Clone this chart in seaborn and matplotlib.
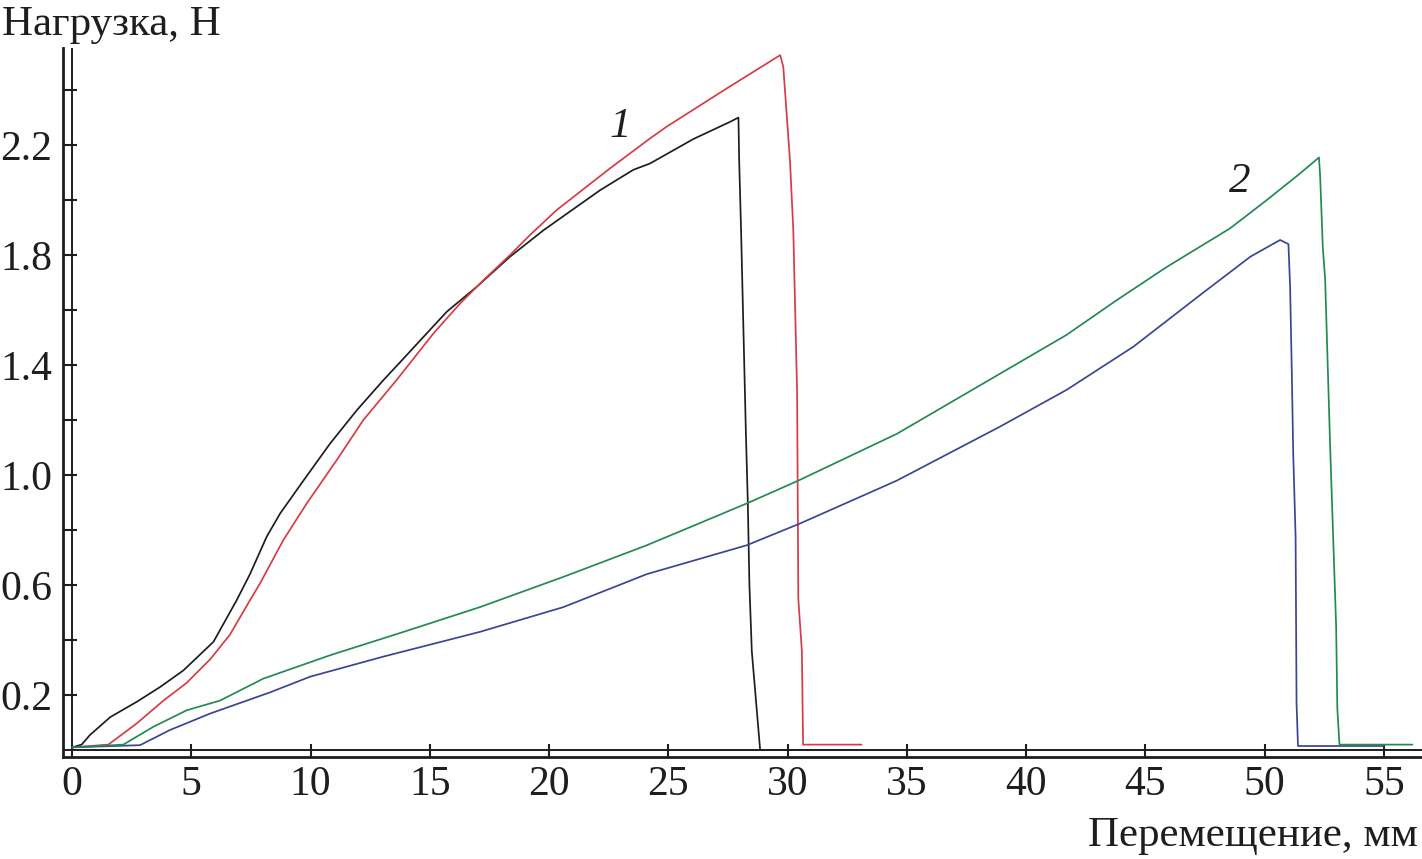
import numpy as np
import pandas as pd
import matplotlib
matplotlib.use('Agg')
import matplotlib.pyplot as plt
import seaborn as sns

# ---------------- data ----------------
x_black = [0.0, 0.4, 0.75, 1.6, 2.7, 3.7, 4.67, 5.93, 6.9, 7.46, 8.16, 8.72, 9.7, 10.82,
           11.94, 13.05, 13.75, 14.6, 15.71, 16.97, 18.36, 19.76, 22.14, 23.53, 24.23,
           26.05, 27.6, 27.94, 27.97, 28.05, 28.25, 28.33, 28.4, 28.5, 28.85, 31.0]
y_black = [0.01, 0.02, 0.055, 0.12, 0.175, 0.23, 0.29, 0.394, 0.545, 0.64, 0.776, 0.86, 0.98, 1.115,
           1.236, 1.345, 1.41, 1.49, 1.594, 1.685, 1.794, 1.89, 2.036, 2.11, 2.133,
           2.222, 2.285, 2.30, 2.145, 1.89, 1.16, 0.91, 0.6, 0.36, 0.0, 0.0]

x_red = [0.0, 1.52, 2.71, 3.83, 4.81, 5.79, 6.62, 7.46, 7.88, 8.86, 9.84,
         11.1, 12.21, 13.6, 15.15, 16.27, 17.25, 18.36, 19.2, 20.32, 22.55, 24.23,
         24.93, 27.45, 29.69, 29.82, 29.96, 30.1, 30.24, 30.4, 30.45, 30.6, 30.65, 33.1]
y_red = [0.01, 0.02, 0.097, 0.18, 0.245, 0.33, 0.42, 0.545, 0.606, 0.764, 0.897,
         1.055, 1.2, 1.345, 1.515, 1.624, 1.709, 1.8, 1.873, 1.964, 2.115, 2.224,
         2.267, 2.406, 2.527, 2.485, 2.315, 2.145, 1.89, 1.3, 0.55, 0.36, 0.02, 0.02]

x_green = [0.0, 2.15, 3.41, 4.81, 6.2, 8.02, 10.82, 13.9, 17.1, 20.6, 24.1, 28.29, 30.45,
           34.58, 38.2, 41.7, 43.8, 45.9, 48.55, 50.09, 51.49, 52.28, 52.33, 52.44, 52.54,
           52.75, 53.0, 53.05, 53.14, 56.2]
y_green = [0.01, 0.02, 0.085, 0.145, 0.18, 0.26, 0.345, 0.43, 0.52, 0.63, 0.745, 0.897, 0.98,
           1.15, 1.333, 1.51, 1.636, 1.757, 1.897, 2.0, 2.097, 2.155, 2.085, 1.83, 1.71,
           1.1, 0.45, 0.15, 0.02, 0.02]

x_blue = [0.0, 2.85, 4.1, 5.79, 8.3, 9.98, 13.05, 17.1, 20.6, 24.1, 28.29, 30.52, 34.58,
          38.9, 41.7, 44.5, 47.3, 49.4, 50.65, 51.0, 51.07, 51.14, 51.2, 51.3, 51.34, 51.4, 55.0]
y_blue = [0.01, 0.018, 0.073, 0.133, 0.21, 0.267, 0.34, 0.43, 0.52, 0.64, 0.745, 0.824, 0.98,
          1.176, 1.31, 1.467, 1.655, 1.794, 1.855, 1.84, 1.685, 1.38, 1.08, 0.776, 0.17, 0.015, 0.015]

x_ticks = [0, 5, 10, 15, 20, 25, 30, 35, 40, 45, 50, 55]
y_ticks = [0.2, 0.4, 0.6, 0.8, 1.0, 1.2, 1.4, 1.6, 1.8, 2.0, 2.2, 2.4]
y_tick_labels = ['0.2', '', '0.6', '', '1.0', '', '1.4', '', '1.8', '', '2.2', '']

# ---------------- style ----------------
sns.set_theme(style='white')
plt.rcParams['font.family'] = ['Liberation Serif', 'DejaVu Serif']
ink = '#1e1e1e'

fig = plt.figure(figsize=(14.22, 8.59), dpi=100)
ax = fig.add_axes([63 / 1422, 102 / 859, 1359 / 1422, 709 / 859])

series = [(x_black, y_black, '#1e1e1e'),
          (x_red, y_red, '#d63c46'),
          (x_blue, y_blue, '#3b4596'),
          (x_green, y_green, '#238a52')]
for xs, ys, col in series:
    sns.lineplot(x=xs, y=ys, color=col, linewidth=1.25, sort=False, estimator=None, ax=ax)

ax.set_xlim(-0.38, 56.6)
ax.set_ylim(-0.025, 2.553)

# double frame lines
for side in ['top', 'right']:
    ax.spines[side].set_visible(False)
for side in ['left', 'bottom']:
    ax.spines[side].set_color(ink)
    ax.spines[side].set_linewidth(2.0)
ax.axvline(0, color=ink, linewidth=1.4, zorder=1)
ax.axhline(0, color=ink, linewidth=1.4, zorder=1)

ax.set_xticks(x_ticks)
ax.set_xticklabels([str(t) for t in x_ticks])
ax.set_yticks(y_ticks)
ax.set_yticklabels(y_tick_labels)
ax.tick_params(axis='both', direction='in', color=ink, width=1.5, labelsize=30, labelcolor=ink)
ax.tick_params(axis='y', length=10, pad=8, left=True)
ax.tick_params(axis='x', length=9.4, pad=6, bottom=True)
ax.grid(False)
ax.set_xlabel('')
ax.set_ylabel('')

# curve numbers
ax.text(22.98, 2.265, '1', fontsize=31, style='italic', color=ink, ha='center', va='center')
ax.text(48.97, 2.065, '2', fontsize=31, style='italic', color=ink, ha='center', va='center')

# axis titles
fig.text(2 / 1422, 1 - 35 / 859, 'Нагрузка, Н', fontsize=31, color=ink, ha='left', va='baseline')
fig.text(1418 / 1422, 1 - 846 / 859, 'Перемещение, мм', fontsize=31, color=ink, ha='right', va='baseline')

plt.savefig('out.png', dpi=100)
